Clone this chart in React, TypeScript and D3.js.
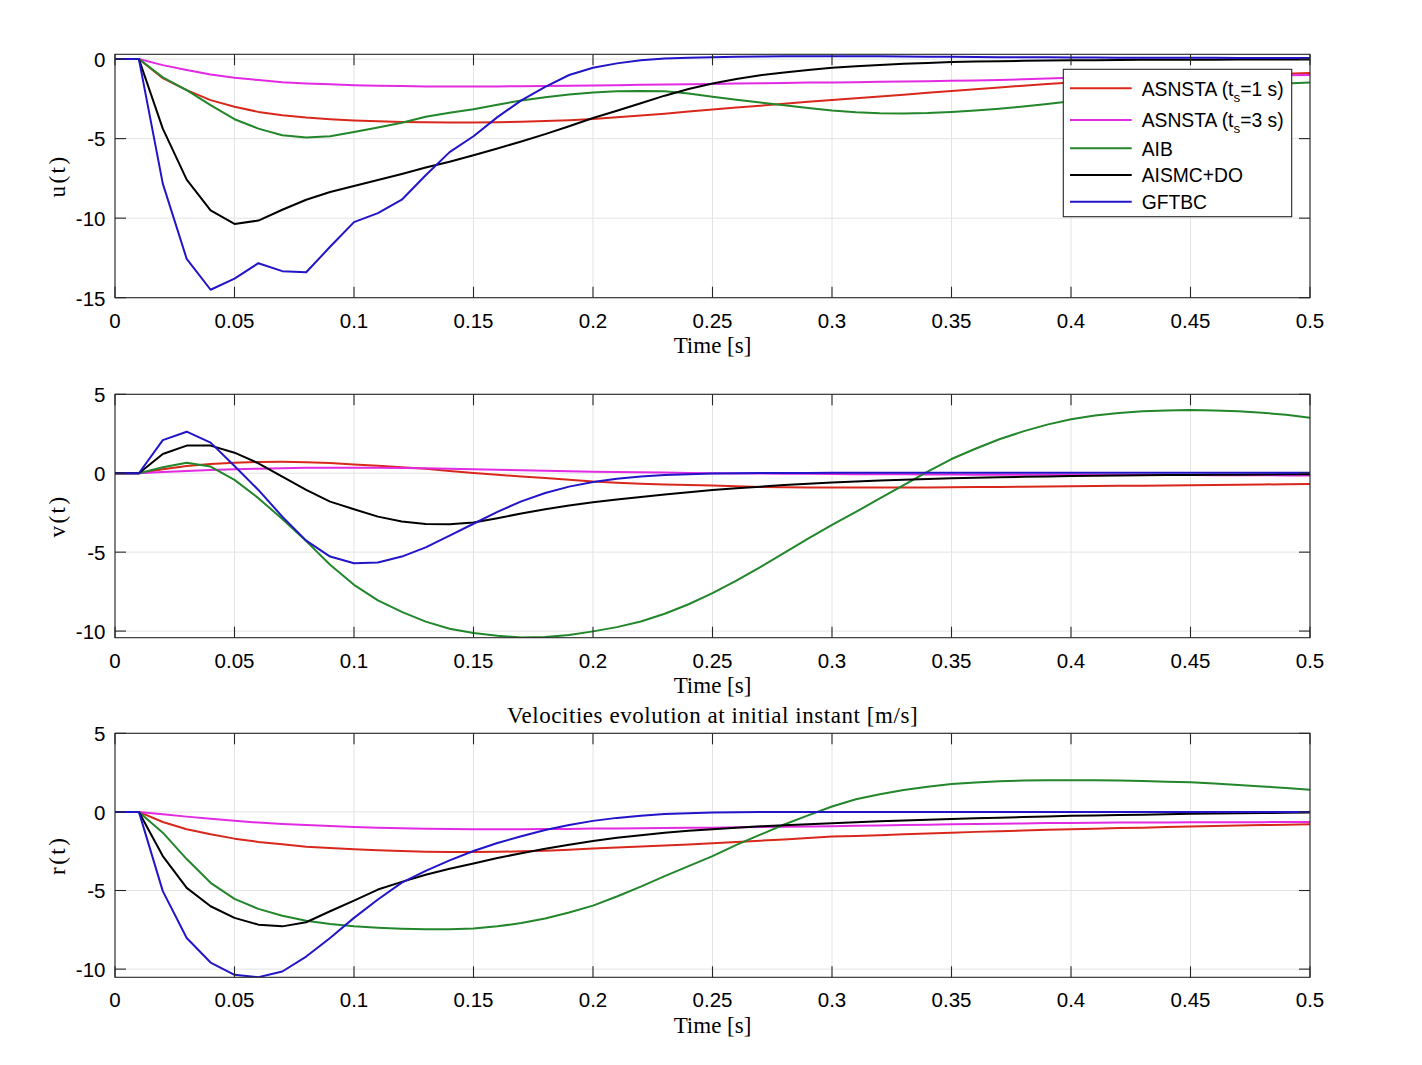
import React from 'react';
import * as d3 from 'd3';

// ---------------- DATA ----------------
const time = [
  0, 0.01, 0.02, 0.03, 0.04, 0.05, 0.06, 0.07, 0.08, 0.09,
  0.1, 0.11, 0.12, 0.13, 0.14, 0.15, 0.16, 0.17, 0.18, 0.19,
  0.2, 0.21, 0.22, 0.23, 0.24, 0.25, 0.26, 0.27, 0.28, 0.29,
  0.3, 0.31, 0.32, 0.33, 0.34, 0.35, 0.36, 0.37, 0.38, 0.39,
  0.4, 0.41, 0.42, 0.43, 0.44, 0.45, 0.46, 0.47, 0.48, 0.49, 0.5,
];

const xTicks = [0, 0.05, 0.1, 0.15, 0.2, 0.25, 0.3, 0.35, 0.4, 0.45, 0.5];

// u(t)
const uAsnsta1 = [0, 0, -1.2, -1.95, -2.58, -3.0, -3.32, -3.53, -3.68, -3.78, -3.86, -3.91, -3.95, -3.97, -3.98, -3.98, -3.97, -3.94, -3.9, -3.84, -3.77, -3.66, -3.55, -3.43, -3.3, -3.17, -3.05, -2.93, -2.81, -2.69, -2.58, -2.47, -2.36, -2.25, -2.12, -2.0, -1.89, -1.78, -1.67, -1.57, -1.47, -1.38, -1.3, -1.23, -1.16, -1.1, -1.05, -1.0, -0.96, -0.92, -0.88];
const uAsnsta3 = [0, 0, -0.38, -0.69, -0.97, -1.18, -1.32, -1.45, -1.53, -1.59, -1.64, -1.68, -1.7, -1.72, -1.73, -1.73, -1.72, -1.71, -1.7, -1.68, -1.66, -1.64, -1.62, -1.6, -1.58, -1.56, -1.54, -1.52, -1.5, -1.48, -1.47, -1.45, -1.43, -1.41, -1.39, -1.37, -1.34, -1.31, -1.27, -1.22, -1.18, -1.15, -1.12, -1.1, -1.08, -1.06, -1.04, -1.03, -1.02, -1.01, -1.0];
const uAib = [0, 0, -1.15, -1.95, -2.9, -3.78, -4.37, -4.79, -4.93, -4.85, -4.58, -4.3, -4.0, -3.62, -3.37, -3.15, -2.87, -2.6, -2.4, -2.22, -2.1, -2.03, -2.0, -2.03, -2.16, -2.37, -2.55, -2.73, -2.9, -3.08, -3.24, -3.34, -3.4, -3.42, -3.39, -3.32, -3.23, -3.12, -2.98, -2.82, -2.65, -2.5, -2.35, -2.21, -2.08, -1.95, -1.83, -1.72, -1.62, -1.54, -1.48];
const uAismc = [0, 0, -4.37, -7.58, -9.51, -10.36, -10.15, -9.47, -8.84, -8.36, -7.98, -7.6, -7.22, -6.82, -6.45, -6.05, -5.62, -5.18, -4.72, -4.22, -3.7, -3.25, -2.78, -2.3, -1.88, -1.53, -1.25, -1.02, -0.84, -0.68, -0.55, -0.45, -0.37, -0.3, -0.24, -0.19, -0.16, -0.13, -0.11, -0.09, -0.08, -0.07, -0.06, -0.05, -0.05, -0.04, -0.04, -0.03, -0.03, -0.03, -0.03];
const uGftbc = [0, 0, -7.83, -12.56, -14.5, -13.8, -12.83, -13.33, -13.4, -11.8, -10.25, -9.68, -8.84, -7.3, -5.85, -4.85, -3.65, -2.6, -1.75, -1.0, -0.55, -0.27, -0.07, 0.03, 0.08, 0.12, 0.14, 0.16, 0.17, 0.18, 0.18, 0.18, 0.17, 0.16, 0.15, 0.14, 0.13, 0.12, 0.12, 0.11, 0.1, 0.1, 0.09, 0.09, 0.08, 0.08, 0.08, 0.07, 0.07, 0.07, 0.07];

// v(t)
const vAsnsta1 = [0, 0, 0.25, 0.46, 0.58, 0.67, 0.71, 0.72, 0.7, 0.65, 0.56, 0.47, 0.38, 0.28, 0.14, 0.02, -0.1, -0.2, -0.31, -0.42, -0.53, -0.6, -0.66, -0.71, -0.75, -0.78, -0.83, -0.87, -0.89, -0.9, -0.91, -0.91, -0.91, -0.9, -0.9, -0.89, -0.88, -0.87, -0.85, -0.84, -0.82, -0.81, -0.8, -0.79, -0.77, -0.76, -0.74, -0.73, -0.71, -0.7, -0.68];
const vAsnsta3 = [0, 0, 0.08, 0.14, 0.2, 0.25, 0.29, 0.32, 0.34, 0.35, 0.35, 0.34, 0.33, 0.31, 0.28, 0.25, 0.22, 0.19, 0.16, 0.13, 0.1, 0.08, 0.06, 0.04, 0.02, 0.0, -0.01, -0.02, -0.03, -0.04, -0.05, -0.06, -0.07, -0.07, -0.08, -0.08, -0.09, -0.09, -0.1, -0.1, -0.1, -0.11, -0.11, -0.12, -0.12, -0.12, -0.13, -0.13, -0.13, -0.14, -0.14];
const vAib = [0, 0, 0.38, 0.67, 0.42, -0.42, -1.58, -2.9, -4.3, -5.8, -7.07, -8.05, -8.78, -9.4, -9.85, -10.12, -10.3, -10.4, -10.38, -10.25, -10.02, -9.75, -9.39, -8.9, -8.3, -7.6, -6.8, -5.95, -5.05, -4.15, -3.27, -2.45, -1.6, -0.75, 0.1, 0.9, 1.55, 2.15, 2.65, 3.08, 3.42, 3.65, 3.82, 3.93, 3.98, 4.0, 3.98, 3.92, 3.83, 3.7, 3.52];
const vAismc = [0, 0, 1.22, 1.75, 1.75, 1.3, 0.63, -0.21, -1.06, -1.8, -2.28, -2.75, -3.06, -3.21, -3.23, -3.12, -2.85, -2.55, -2.28, -2.05, -1.84, -1.66, -1.5, -1.35, -1.2, -1.06, -0.95, -0.85, -0.75, -0.66, -0.58, -0.52, -0.46, -0.41, -0.36, -0.32, -0.29, -0.26, -0.23, -0.2, -0.18, -0.16, -0.15, -0.13, -0.12, -0.11, -0.1, -0.09, -0.08, -0.07, -0.06];
const vGftbc = [0, 0, 2.1, 2.63, 1.94, 0.46, -1.06, -2.75, -4.27, -5.28, -5.7, -5.66, -5.28, -4.7, -3.95, -3.2, -2.45, -1.78, -1.25, -0.85, -0.55, -0.35, -0.2, -0.12, -0.06, -0.02, 0, 0.01, 0.02, 0.02, 0.03, 0.03, 0.03, 0.03, 0.03, 0.03, 0.03, 0.03, 0.03, 0.03, 0.03, 0.03, 0.03, 0.03, 0.03, 0.03, 0.03, 0.03, 0.03, 0.03, 0.03];

// r(t)
const rAsnsta1 = [0, 0, -0.64, -1.1, -1.42, -1.7, -1.91, -2.06, -2.21, -2.3, -2.38, -2.44, -2.49, -2.53, -2.55, -2.55, -2.54, -2.51, -2.47, -2.4, -2.32, -2.26, -2.2, -2.13, -2.07, -2.0, -1.92, -1.83, -1.75, -1.66, -1.57, -1.53, -1.48, -1.42, -1.37, -1.32, -1.27, -1.23, -1.18, -1.14, -1.1, -1.07, -1.03, -1.0, -0.96, -0.93, -0.9, -0.87, -0.84, -0.82, -0.79];
const rAsnsta3 = [0, 0, -0.15, -0.3, -0.44, -0.57, -0.68, -0.77, -0.84, -0.9, -0.96, -1.0, -1.04, -1.07, -1.09, -1.1, -1.1, -1.1, -1.09, -1.08, -1.06, -1.05, -1.04, -1.03, -1.01, -1.0, -0.98, -0.96, -0.94, -0.93, -0.91, -0.88, -0.86, -0.84, -0.81, -0.79, -0.77, -0.75, -0.73, -0.71, -0.7, -0.69, -0.68, -0.67, -0.67, -0.66, -0.66, -0.65, -0.65, -0.64, -0.64];
const rAib = [0, 0, -1.32, -3.0, -4.51, -5.53, -6.17, -6.6, -6.92, -7.13, -7.28, -7.37, -7.43, -7.47, -7.46, -7.41, -7.28, -7.07, -6.78, -6.4, -5.96, -5.38, -4.75, -4.08, -3.45, -2.81, -2.1, -1.45, -0.8, -0.22, 0.34, 0.8, 1.12, 1.4, 1.6, 1.77, 1.87, 1.95, 1.99, 2.01, 2.02, 2.01, 1.99, 1.96, 1.92, 1.88, 1.8, 1.71, 1.62, 1.52, 1.41];
const rAismc = [0, 0, -2.81, -4.83, -6.0, -6.74, -7.17, -7.28, -7.02, -6.32, -5.64, -4.94, -4.45, -4.0, -3.62, -3.28, -2.93, -2.63, -2.35, -2.09, -1.85, -1.65, -1.48, -1.33, -1.2, -1.1, -1.0, -0.92, -0.85, -0.78, -0.72, -0.66, -0.6, -0.55, -0.5, -0.45, -0.41, -0.37, -0.33, -0.29, -0.25, -0.23, -0.2, -0.18, -0.15, -0.12, -0.1, -0.09, -0.07, -0.05, -0.04];
const rGftbc = [0, 0, -5.04, -8.02, -9.58, -10.36, -10.51, -10.15, -9.2, -8.02, -6.74, -5.57, -4.5, -3.75, -3.08, -2.49, -1.98, -1.55, -1.15, -0.83, -0.57, -0.38, -0.24, -0.14, -0.08, -0.04, -0.02, -0.01, 0, 0, 0, 0, 0, 0, 0, 0, 0, 0, 0, 0, 0, 0, 0, 0, 0, 0, 0, 0, 0, 0, 0];

const seriesColors = ['#d8281c', '#e22ae2', '#22862a', '#000000', '#2214c8'];
const legendMain = ['ASNSTA (t', 'ASNSTA (t', 'AIB', 'AISMC+DO', 'GFTBC'];
const legendSub = ['s', 's', '', '', ''];
const legendTail = ['=1 s)', '=3 s)', '', '', ''];

const uTicks = [-15, -10, -5, 0];
const vTicks = [-10, -5, 0, 5];
const rTicks = [-10, -5, 0, 5];

// ---------------- LAYOUT ----------------
const W = 1422;
const H = 1065;
const X0 = 115;
const X1 = 1310;

const panels = [
  { id: 'u', label: 'u(t)', domain: [-15, 0.3], ticks: uTicks, top: 54.3, bottom: 297.7, series: [uAsnsta1, uAsnsta3, uAib, uAismc, uGftbc] },
  { id: 'v', label: 'v(t)', domain: [-10.42, 5], ticks: vTicks, top: 394.3, bottom: 637.7, series: [vAsnsta1, vAsnsta3, vAib, vAismc, vGftbc] },
  { id: 'r', label: 'r(t)', domain: [-10.52, 5], ticks: rTicks, top: 733.3, bottom: 977.3, series: [rAsnsta1, rAsnsta3, rAib, rAismc, rGftbc] },
];

const SANS = '"Liberation Sans", Arial, Helvetica, sans-serif';
const SERIF = '"Liberation Serif", "Times New Roman", serif';
const AXIS = '#262626';
const GRID = '#e3e3e3';
const TICK = 11;

function Panel({ p }: { p: typeof panels[number] }) {
  const x = d3.scaleLinear().domain([0, 0.5]).range([X0, X1]);
  const y = d3.scaleLinear().domain(p.domain).range([p.bottom, p.top]);
  const line = d3.line<number>().x((_, i) => x(time[i])).y((d) => y(d));
  const clipId = `clip-${p.id}`;
  const midY = (p.top + p.bottom) / 2;
  return (
    <g>
      <defs>
        <clipPath id={clipId}>
          <rect x={X0} y={p.top} width={X1 - X0} height={p.bottom - p.top} />
        </clipPath>
      </defs>
      <rect x={X0} y={p.top} width={X1 - X0} height={p.bottom - p.top} fill="#ffffff" />
      {xTicks.map((t) => (
        <line key={'gx' + t} x1={x(t)} x2={x(t)} y1={p.top} y2={p.bottom} stroke={GRID} strokeWidth={1} />
      ))}
      {p.ticks.map((t) => (
        <line key={'gy' + t} x1={X0} x2={X1} y1={y(t)} y2={y(t)} stroke={GRID} strokeWidth={1} />
      ))}
      <g clipPath={`url(#${clipId})`}>
        {p.series.map((s, i) => (
          <path key={i} d={line(s) || ''} fill="none" stroke={seriesColors[i]} strokeWidth={2} strokeLinejoin="round" />
        ))}
      </g>
      <rect x={X0} y={p.top} width={X1 - X0} height={p.bottom - p.top} fill="none" stroke={AXIS} strokeWidth={1.1} />
      {xTicks.map((t) => (
        <g key={'tx' + t}>
          <line x1={x(t)} x2={x(t)} y1={p.bottom} y2={p.bottom - TICK} stroke={AXIS} strokeWidth={1.1} />
          <line x1={x(t)} x2={x(t)} y1={p.top} y2={p.top + TICK} stroke={AXIS} strokeWidth={1.1} />
          <text x={x(t)} y={p.bottom + 30} textAnchor="middle" fontFamily={SANS} fontSize={20.5} fill="#000">
            {String(t)}
          </text>
        </g>
      ))}
      {p.ticks.map((t) => (
        <g key={'ty' + t}>
          <line x1={X0} x2={X0 + TICK} y1={y(t)} y2={y(t)} stroke={AXIS} strokeWidth={1.1} />
          <line x1={X1} x2={X1 - TICK} y1={y(t)} y2={y(t)} stroke={AXIS} strokeWidth={1.1} />
          <text x={105.5} y={y(t) + 7.8} textAnchor="end" fontFamily={SANS} fontSize={20.5} fill="#000">
            {String(t)}
          </text>
        </g>
      ))}
      <text x={(X0 + X1) / 2} y={p.bottom + 55.6} textAnchor="middle" fontFamily={SERIF} fontSize={23} fill="#000">
        Time [s]
      </text>
      <text
        transform={`translate(65, ${midY}) rotate(-90)`}
        textAnchor="middle"
        fontFamily={SERIF}
        fontSize={23}
        letterSpacing={2.5}
        fill="#000"
      >
        {p.label}
      </text>
    </g>
  );
}

function Legend() {
  const lx0 = 1063.3;
  const ly0 = 69.3;
  const lw = 228.4;
  const lh = 147.4;
  const rowY = [88.3, 120, 148.3, 175, 201.7];
  return (
    <g>
      <rect x={lx0} y={ly0} width={lw} height={lh} fill="#ffffff" stroke={AXIS} strokeWidth={1.1} />
      {legendMain.map((name, i) => (
        <g key={i}>
          <line x1={1070} x2={1131.7} y1={rowY[i]} y2={rowY[i]} stroke={seriesColors[i]} strokeWidth={2} />
          <text x={1141.7} y={rowY[i] + 7.2} fontFamily={SANS} fontSize={19.3} fill="#000">
            {name}
            {legendSub[i] ? (
              <tspan fontSize={13.5} dy={6}>
                {legendSub[i]}
              </tspan>
            ) : null}
            {legendTail[i] ? <tspan dy={-6}>{legendTail[i]}</tspan> : null}
          </text>
        </g>
      ))}
    </g>
  );
}

export default function App() {
  return (
    <svg
      width={W}
      height={H}
      viewBox={`0 0 ${W} ${H}`}
      style={{ position: 'absolute', left: 0, top: 0, background: '#ffffff' }}
    >
      <rect x={0} y={0} width={W} height={H} fill="#ffffff" />
      {panels.map((p) => (
        <Panel key={p.id} p={p} />
      ))}
      <text
        x={(X0 + X1) / 2}
        y={722.7}
        textAnchor="middle"
        fontFamily={SERIF}
        fontSize={23}
        letterSpacing={0.55}
        fill="#000"
      >
        Velocities evolution at initial instant [m/s]
      </text>
      <Legend />
    </svg>
  );
}
